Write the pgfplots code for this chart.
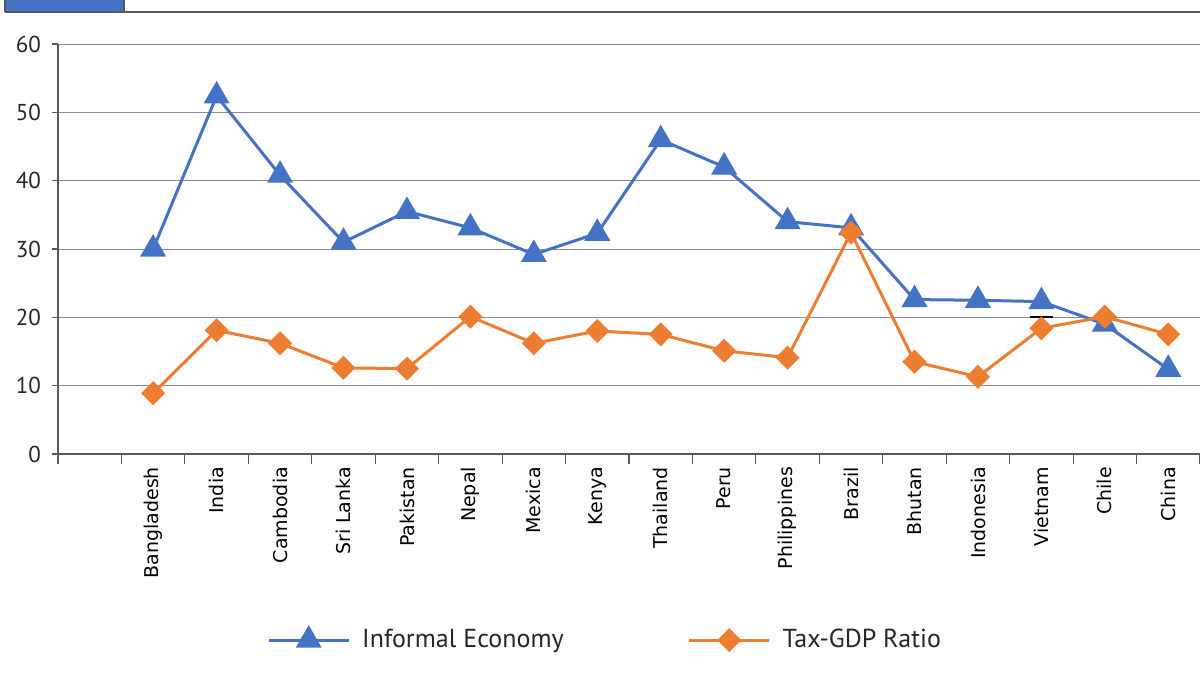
\documentclass[border=0pt]{standalone}
\usepackage{fontspec}
\setmainfont{PT Sans}
\newfontfamily\labfont{DejaVu Sans}
\usepackage{pgfplots}
\pgfplotsset{compat=1.18}
\definecolor{cblue}{HTML}{4472C4}
\definecolor{corange}{HTML}{ED7D31}
\definecolor{gridc}{HTML}{8C8C8C}
\definecolor{axc}{HTML}{595959}
\begin{document}
\begin{tikzpicture}
\begin{axis}[
  at={(29pt,116.5pt)}, anchor=south west,
  scale only axis, width=571pt, height=205pt,
  xmin=0, xmax=18, ymin=0, ymax=60,
  clip=false,
  axis x line*=bottom, axis y line*=left,
  axis line style={-, draw=axc, line width=0.8pt},
  ytick={0,10,...,60},
  ymajorgrids, major grid style={gridc, line width=0.5pt},
  tick align=outside,
  major tick length=3pt, minor tick length=5pt,
  xtick={1.5,2.5,...,17.5},
  xticklabels={Bangladesh,India,Cambodia,Sri Lanka,Pakistan,Nepal,Mexica,Kenya,Thailand,Peru,Philippines,Brazil,Bhutan,Indonesia,Vietnam,Chile,China},
  major x tick style={draw=none},
  minor xtick={0,1,...,18},
  minor x tick style={draw=axc, line width=0.6pt},
  major y tick style={draw=axc, line width=0.6pt},
  xticklabel style={rotate=90, anchor=east, font=\labfont\fontsize{9.5}{11}\selectfont, text=black},
  yticklabel style={font=\fontsize{11.5}{13}\selectfont, text=black!85, xshift=-2pt},
  /pgf/number format/assume math mode=true,
  legend style={at={(0.48,-0.454)}, anchor=center, draw=none, legend columns=2,
    font=\fontsize{13}{15}\selectfont, text=black!85,
    /tikz/every odd column/.append style={column sep=4pt},
    /tikz/every even column/.append style={column sep=60pt}},
  legend image code/.code={\draw[mark repeat=2,mark phase=2] plot coordinates {(0pt,0pt) (20pt,0pt) (40pt,0pt)};},
]
\addplot[cblue, line width=1.5pt, mark=triangle*, mark size=6pt, mark options={solid}] coordinates {
(1.5,30.0) (2.5,52.4) (3.5,40.8) (4.5,31.0) (5.5,35.5) (6.5,33.1) (7.5,29.2) (8.5,32.3)
(9.5,46.0) (10.5,42.0) (11.5,34.0) (12.5,33.1) (13.5,22.6) (14.5,22.5) (15.5,22.3) (16.5,19.0) (17.5,12.4)};
\addlegendentry{Informal Economy}
\addplot[corange, line width=1.5pt, mark=square*, mark size=3.5pt, mark options={solid, rotate=45}] coordinates {
(1.5,8.9) (2.5,18.1) (3.5,16.2) (4.5,12.6) (5.5,12.5) (6.5,20.1) (7.5,16.2) (8.5,18.0)
(9.5,17.5) (10.5,15.1) (11.5,14.1) (12.5,32.4) (13.5,13.5) (14.5,11.3) (15.5,18.4) (16.5,20.1) (17.5,17.5)};
\addlegendentry{Tax-GDP Ratio}
\addplot[black, line width=1pt, forget plot] coordinates {(15.32,20) (15.68,20)};
\end{axis}
\fill[cblue] (2.5pt,337.5pt) rectangle (62pt,344pt);
\draw[axc, line width=0.8pt] (2.5pt,337.5pt) -- (600pt,337.5pt);
\draw[axc, line width=0.6pt] (62pt,337.5pt) -- (62pt,344pt);
\draw[axc, line width=0.6pt] (2.5pt,337.5pt) -- (2.5pt,344pt);
\pgfresetboundingbox
\useasboundingbox (0,0) rectangle (600pt,343.5pt);
\end{tikzpicture}
\end{document}
